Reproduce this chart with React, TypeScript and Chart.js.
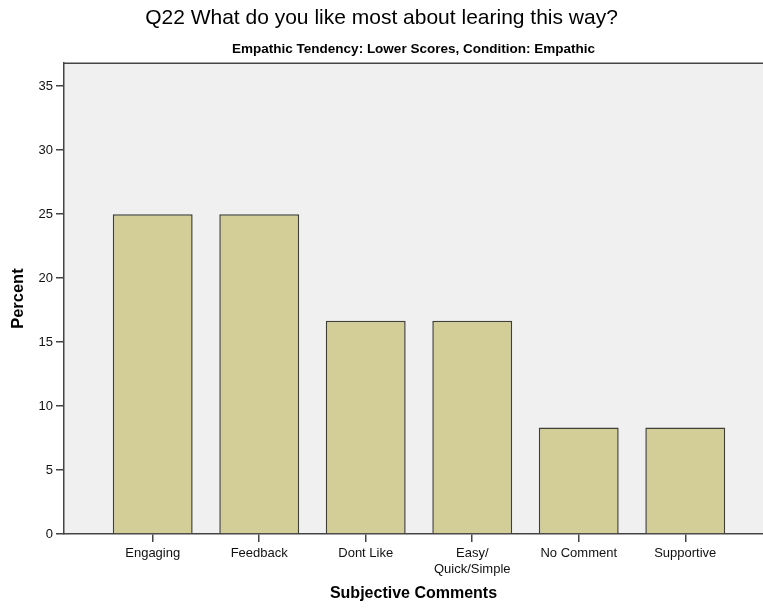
import React, { useEffect, useRef } from "react";
import { Chart, registerables } from "chart.js";

Chart.register(...registerables);

const categories: (string | string[])[] = [
  "Engaging",
  "Feedback",
  "Dont Like",
  ["Easy/", "Quick/Simple"],
  "No Comment",
  "Supportive",
];
const percentValues = [25, 25, 16.67, 16.67, 8.33, 8.33];
const yTicks = [0, 5, 10, 15, 20, 25, 30, 35];

const titleText = "Q22 What do you like most about learing this way?";
const subtitleText = "Empathic Tendency: Lower Scores, Condition: Empathic";
const xTitle = "Subjective Comments";
const yTitle = "Percent";

const FONT = "'Liberation Sans', Arial, sans-serif";

const plotBg = {
  id: "plotBg",
  beforeDraw(chart: any) {
    const { ctx, chartArea } = chart;
    if (!chartArea) return;
    ctx.save();
    ctx.fillStyle = "#f0f0f0";
    ctx.fillRect(chartArea.left, chartArea.top, chartArea.right - chartArea.left, chartArea.bottom - chartArea.top);
    ctx.restore();
  },
  afterDraw(chart: any) {
    const { ctx, chartArea } = chart;
    ctx.save();
    ctx.strokeStyle = "#444";
    ctx.lineWidth = 1.5;
    ctx.beginPath();
    ctx.moveTo(chartArea.left, chartArea.top);
    ctx.lineTo(chartArea.right, chartArea.top);
    ctx.stroke();
    ctx.restore();
  },
};

export default function App() {
  const ref = useRef<HTMLCanvasElement | null>(null);
  useEffect(() => {
    if (!ref.current) return;
    const chart = new Chart(ref.current, {
      type: "bar",
      data: {
        datasets: [
          {
            data: percentValues.map((v, i) => ({ x: i, y: v })),
            backgroundColor: "#d3ce98",
            borderColor: "#3f3f38",
            borderWidth: 1.5,
            barPercentage: 0.75,
            categoryPercentage: 1,
          },
        ],
      },
      plugins: [plotBg],
      options: {
        animation: false,
        responsive: false,
        layout: { padding: { top: 0, right: 0, bottom: 0, left: 0 } },
        plugins: {
          legend: { display: false },
          tooltip: { enabled: false },
          title: {
            display: true,
            text: titleText,
            color: "#000",
            font: { family: FONT, size: 21, weight: "normal" },
            padding: { top: 6, bottom: 0 },
          },
          subtitle: {
            display: true,
            fullSize: false,
            text: subtitleText,
            color: "#000",
            font: { family: FONT, size: 13.5, weight: "bold" },
            padding: { top: 9.5, bottom: 6.3 },
          },
        },
        scales: {
          x: {
            type: "linear",
            offset: false,
            min: -0.833,
            max: 5.73,
            afterBuildTicks: (axis: any) => {
              axis.ticks = categories.map((_, i) => ({ value: i }));
            },
            afterFit: (axis: any) => {
              axis.height = 75;
            },
            grid: { offset: false, drawOnChartArea: false, drawTicks: true, tickLength: 8, color: "#444", lineWidth: 1.5 },
            border: { display: true, color: "#444", width: 1.5 },
            ticks: {
              autoSkip: false,
              maxRotation: 0,
              padding: 4,
              color: "#111",
              font: { family: FONT, size: 13 },
              callback: (v: any) => categories[v as number] ?? "",
            },
            title: {
              display: true,
              text: xTitle,
              color: "#000",
              font: { family: FONT, size: 16, weight: "bold" },
              padding: { top: 0, bottom: 6 },
            },
          },
          y: {
            min: 0,
            max: 36.8,
            afterBuildTicks: (axis: any) => {
              axis.ticks = yTicks.map((v) => ({ value: v }));
            },
            afterFit: (axis: any) => {
              axis.width = 64;
            },
            grid: { drawOnChartArea: false, drawTicks: true, tickLength: 8, color: "#444", lineWidth: 1.5 },
            border: { display: true, color: "#444", width: 1.5 },
            ticks: {
              padding: 3,
              color: "#111",
              font: { family: FONT, size: 13 },
            },
            title: {
              display: true,
              text: yTitle,
              color: "#000",
              font: { family: FONT, size: 16.5, weight: "bold" },
              padding: { top: 9, bottom: 0 },
            },
          },
        },
      },
    } as any);
    return () => chart.destroy();
  }, []);
  return (
    <div style={{ position: "absolute", left: 0, top: 0, width: 763, height: 609, background: "#fff" }}>
      <canvas ref={ref} width={763} height={609} style={{ width: 763, height: 609, display: "block" }} />
    </div>
  );
}
